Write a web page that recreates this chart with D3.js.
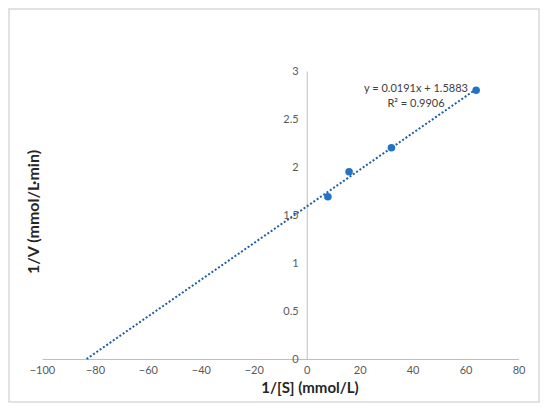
<!DOCTYPE html>
<html><head><meta charset="utf-8">
<script src="https://cdn.jsdelivr.net/npm/d3@7"></script>
<style>body{margin:0;background:#fff}svg{display:block}text{font-family:Lato,"Liberation Sans",sans-serif}</style>
</head><body>
<svg id="c" width="550" height="409"></svg>
<script>
const xValues = [8, 16, 32, 64];
const yValues = [1.69, 1.95, 2.2, 2.8];
const xTicks = [-100, -80, -60, -40, -20, 0, 20, 40, 60, 80];
const yTicks = [0, 0.5, 1, 1.5, 2, 2.5, 3];
const trendSlope = 0.0191, trendIntercept = 1.5883;
const equationText = ["y = 0.0191x + 1.5883", "R\u00B2 = 0.9906"];
const xTitle = "1/[S] (mmol/L)";
const yTitle = "1/V (mmol/L\u00B7min)";

const svg = d3.select("#c");
svg.append("rect").attr("x",9).attr("y",9).attr("width",530).attr("height",393)
  .attr("fill","#fff").attr("stroke","#d9d9d9").attr("stroke-width",1.5);

const x = d3.scaleLinear().domain([-100,80]).range([42,518.5]);
const y = d3.scaleLinear().domain([0,3]).range([359,71]);

const xa = svg.append("g").attr("transform",`translate(0,${y(0)})`)
  .call(d3.axisBottom(x).tickValues(xTicks).tickSize(0).tickPadding(7).tickFormat(d3.format("d")));
xa.select(".domain").attr("stroke","#bfbfbf");
xa.selectAll("text").attr("fill","#595959").attr("font-size",11);

const ya = svg.append("g").attr("transform",`translate(${x(0)},0)`)
  .call(d3.axisLeft(y).tickValues(yTicks).tickSize(0).tickPadding(8).tickFormat(d=>String(d)));
ya.select(".domain").attr("stroke","#bfbfbf");
ya.selectAll("text").attr("fill","#595959").attr("font-size",11);

const x0 = -trendIntercept/trendSlope, x1 = d3.max(xValues);
svg.append("line").attr("x1",x(x0)).attr("y1",y(trendSlope*x0+trendIntercept))
  .attr("x2",x(x1)).attr("y2",y(trendSlope*x1+trendIntercept))
  .attr("stroke","#1f5ea8").attr("stroke-width",2).attr("stroke-dasharray","2,2");

svg.selectAll("circle.p").data(xValues).join("circle").attr("class","p")
  .attr("cx",d=>x(d)).attr("cy",(d,i)=>y(yValues[i])).attr("r",3.8).attr("fill","#2274c3");

svg.selectAll("text.eq").data(equationText).join("text").attr("class","eq")
  .attr("x",416).attr("y",(d,i)=>92+i*15).attr("text-anchor","middle")
  .attr("font-size",11).attr("fill","#404040").text(d=>d);

svg.append("text").attr("x",310).attr("y",393).attr("text-anchor","middle")
  .attr("font-size",15).attr("font-weight","bold").attr("fill","#262626").text(xTitle);
svg.append("text").attr("transform","translate(39,212) rotate(-90)").attr("text-anchor","middle")
  .attr("font-size",16).attr("font-weight","bold").attr("fill","#262626").text(yTitle);
</script>
</body></html>
